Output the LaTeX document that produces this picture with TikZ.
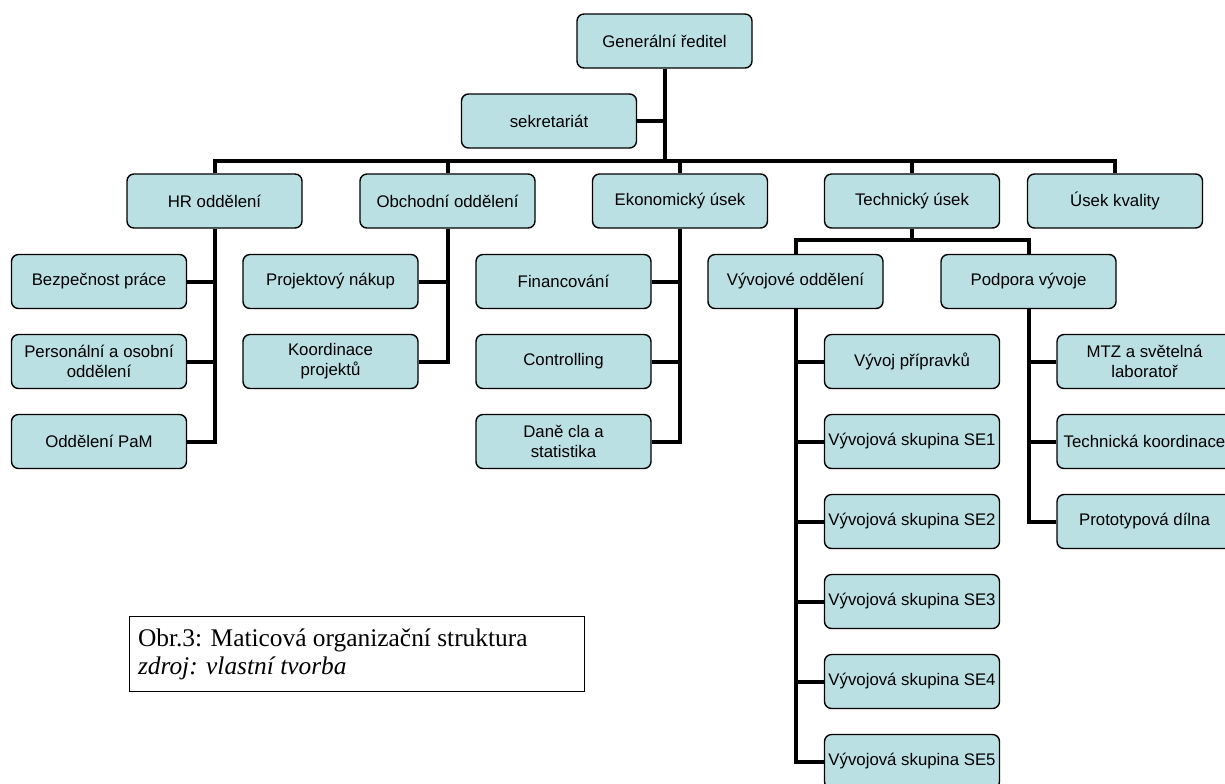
\documentclass[tikz,border=0pt]{standalone}
\usepackage{fontspec}
\setmainfont{Liberation Serif}
\newfontfamily\orgfont{Liberation Sans}
\usetikzlibrary{positioning}

\definecolor{orgfill}{RGB}{187,224,227}

\begin{document}
\begin{tikzpicture}[
    x=0.5pt, y=-0.5pt,
    % Vertical gap between the stacked boxes
    node distance=12.3pt and 14pt,
    % Style for the org chart boxes
    unit/.style={
        rectangle,
        rounded corners=3.5pt,
        draw=black,
        line width=0.7pt,
        fill=orgfill,
        align=center,
        minimum width=87.5pt,
        minimum height=27pt,
        inner xsep=0pt,
        inner ysep=1pt,
        font=\orgfont\fontsize{8.4}{10}\selectfont
    },
    % Style for the connecting lines
    link/.style={
        draw=black,
        line width=2pt
    },
    % Style for the figure caption
    caption/.style={
        rectangle,
        draw=black,
        line width=0.7pt,
        minimum width=227.5pt,
        minimum height=37.5pt,
        text width=219pt,
        inner xsep=4pt,
        align=flush left,
        font=\fontsize{12.7}{14}\selectfont
    }
]
\useasboundingbox (0,0) rectangle (1225,783);

% 1. Top of the chart
\node[unit] (gen) at (664.5,41) {Generální ředitel};
\node[unit] (sekr) at (549,121) {sekretariát};
\coordinate (bus1) at (664.5,161);
\coordinate (bus2) at (912,240);

% 2. Divisions
\node[unit] (hr) at (214.5,201) {HR oddělení};
\node[unit] (obch) at (447.5,201) {Obchodní oddělení};
\node[unit] (ekon) at (680,201) {Ekonomický úsek};
\node[unit] (tech) at (912,201) {Technický úsek};
\node[unit] (kval) at (1115,201) {Úsek kvality};

% 3. Departments below the divisions
\node[unit] (bezp) at (99,281.5) {Bezpečnost práce};
\node[unit, below=of bezp] (pers) {Personální a osobní\\oddělení};
\node[unit, below=of pers] (pam) {Oddělení PaM};

\node[unit] (nakup) at (330.5,281.5) {Projektový nákup};
\node[unit, below=of nakup] (koord) {Koordinace\\projektů};

\node[unit] (fin) at (563.5,281.5) {Financování};
\node[unit, below=of fin] (contr) {Controlling};
\node[unit, below=of contr] (dane) {Daně cla a\\statistika};

\node[unit] (vyv) at (795.5,281.5) {Vývojové oddělení};
\node[unit] (podp) at (1028.5,281.5) {Podpora vývoje};

% 4. Development groups
\node[unit] (pripr) at (912,361.5) {Vývoj přípravků};
\node[unit, below=of pripr] (se1) {Vývojová skupina SE1};
\node[unit, below=of se1] (se2) {Vývojová skupina SE2};
\node[unit, below=of se2] (se3) {Vývojová skupina SE3};
\node[unit, below=of se3] (se4) {Vývojová skupina SE4};
\node[unit, below=of se4] (se5) {Vývojová skupina SE5};

\node[unit] (mtz) at (1144.5,361.5) {MTZ a světelná\\laboratoř};
\node[unit, below=of mtz] (tkoord) {Technická koordinace};
\node[unit, below=of tkoord] (dilna) {Prototypová dílna};

% 5. Connections
\draw[link] (gen.south) -- (bus1);
\draw[link] (sekr.east) -- (sekr.east -| gen.south);
\draw[link] (hr.north) |- (bus1) -| (kval.north);
\draw[link] (obch.north) -- (obch.north |- bus1);
\draw[link] (ekon.north) -- (ekon.north |- bus1);
\draw[link] (tech.north) -- (tech.north |- bus1);

\draw[link] (hr.south) |- (pam.east);
\draw[link] (bezp.east) -- (bezp.east -| hr.south);
\draw[link] (pers.east) -- (pers.east -| hr.south);

\draw[link] (obch.south) |- (koord.east);
\draw[link] (nakup.east) -- (nakup.east -| obch.south);

\draw[link] (ekon.south) |- (dane.east);
\draw[link] (fin.east) -- (fin.east -| ekon.south);
\draw[link] (contr.east) -- (contr.east -| ekon.south);

\draw[link] (tech.south) -- (bus2);
\draw[link] (vyv.north) |- (bus2) -| (podp.north);

\draw[link] (vyv.south) |- (se5.west);
\foreach \g in {pripr,se1,se2,se3,se4}
    \draw[link] (\g.west) -- (\g.west -| vyv.south);

\draw[link] (podp.south) |- (dilna.west);
\draw[link] (mtz.west) -- (mtz.west -| podp.south);
\draw[link] (tkoord.west) -- (tkoord.west -| podp.south);

% 6. Caption
\node[caption] (cap) at (357,654) {Obr.3: Maticová organizační struktura\\\textit{zdroj: vlastní tvorba}};

\end{tikzpicture}
\end{document}
